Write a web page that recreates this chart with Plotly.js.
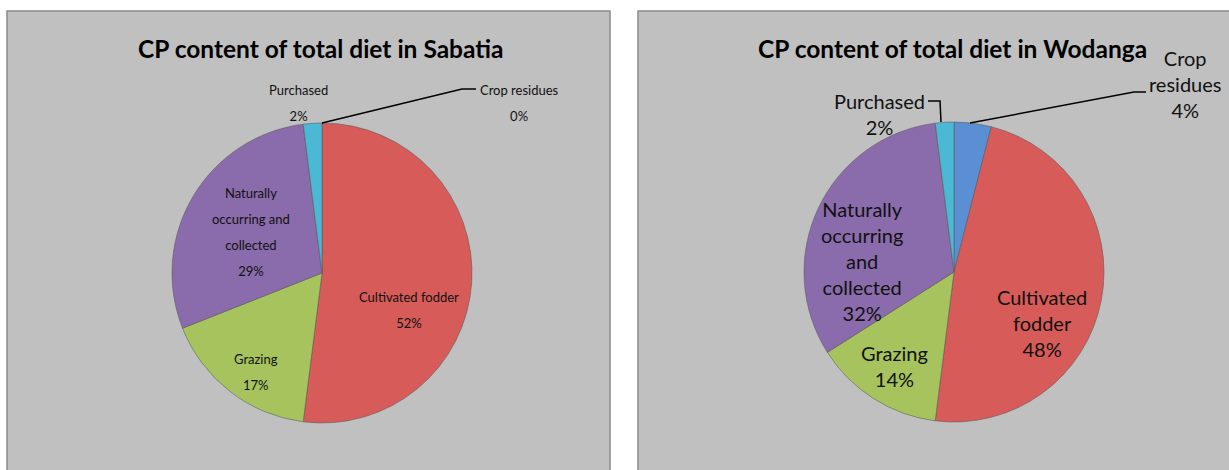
<!DOCTYPE html>
<html>
<head>
<meta charset="utf-8">
<script src="https://cdn.plot.ly/plotly-3.0.1.min.js"></script>
<style>html,body{margin:0;padding:0;background:#fff;}#chart{width:1229px;height:470px;}</style>
</head>
<body>
<div id="chart"></div>
<script>
// ---- data ----
const categories = ['Crop residues', 'Cultivated fodder', 'Grazing', 'Naturally occurring and collected', 'Purchased'];
const sabatiaValues = [0, 52, 17, 29, 2];
const wodangaValues = [4, 48, 14, 32, 2];
const sabatiaLabelLines = [['Crop residues'], ['Cultivated fodder'], ['Grazing'], ['Naturally', 'occurring and', 'collected'], ['Purchased']];
const wodangaLabelLines = [['Crop', 'residues'], ['Cultivated', 'fodder'], ['Grazing'], ['Naturally', 'occurring', 'and', 'collected'], ['Purchased']];
const titles = ['CP content of total diet in Sabatia', 'CP content of total diet in Wodanga'];
const sliceColors = ['#5a8fd4', '#d65b59', '#a6c35d', '#8a6bab', '#4bb8d4'];

// ---- helpers / layout settings ----
const W = 1229, H = 470;
const px = x => x / W;
const py = y => 1 - y / H;
const FONT = 'Lato, "Open Sans", sans-serif';

// label block centres (pixels) in the two panels
const sabatiaLabelPos = [[519, 103], [409, 310], [256, 372], [251, 232], [298, 103]];
const wodangaLabelPos = [[1185, 84], [1042, 323], [894, 366], [862, 261], [879, 114]];

function labelText(lines, value, size) {
  return lines.concat([value + '%']).map(s => '<span style="font-size:' + size + 'px">' + s + '</span>').join('<br>');
}

const pieCommon = {
  type: 'pie',
  labels: categories,
  sort: false,
  direction: 'clockwise',
  rotation: 0,
  marker: {colors: sliceColors, line: {color: 'rgba(90,90,90,0.55)', width: 1}},
  textinfo: 'none',
  showlegend: false,
  hoverinfo: 'label+percent'
};

const traces = [
  Object.assign({}, pieCommon, {
    values: sabatiaValues,
    domain: {x: [px(172), px(472)], y: [py(423), py(123)]}
  }),
  Object.assign({}, pieCommon, {
    values: wodangaValues,
    domain: {x: [px(804), px(1104)], y: [py(422), py(122)]}
  })
];

const annotations = [
  {text: '<b>' + titles[0] + '</b>', x: px(320), y: py(48), font: {family: FONT, size: 24.5, color: '#000'}},
  {text: '<b>' + titles[1] + '</b>', x: px(952), y: py(48), font: {family: FONT, size: 24.5, color: '#000'}}
];
categories.forEach((c, i) => {
  annotations.push({text: labelText(sabatiaLabelLines[i], sabatiaValues[i], 13),
    x: px(sabatiaLabelPos[i][0]), y: py(sabatiaLabelPos[i][1]), font: {family: FONT, size: 20, color: '#111'}});
  annotations.push({text: labelText(wodangaLabelLines[i], wodangaValues[i], 20),
    x: px(wodangaLabelPos[i][0]), y: py(wodangaLabelPos[i][1]), font: {family: FONT, size: 20, color: '#111'}});
});
annotations.forEach(a => Object.assign(a, {xref: 'paper', yref: 'paper', showarrow: false, xanchor: 'center', yanchor: 'middle'}));

const P = (x, y) => px(x) + ',' + py(y);
const shapes = [
  {type: 'rect', xref: 'paper', yref: 'paper', x0: px(7), x1: px(610), y0: -0.05, y1: py(11), fillcolor: '#c0c0c0', line: {color: '#8a8a8a', width: 1.5}, layer: 'below'},
  {type: 'rect', xref: 'paper', yref: 'paper', x0: px(638), x1: px(1240), y0: -0.05, y1: py(11), fillcolor: '#c0c0c0', line: {color: '#8a8a8a', width: 1.5}, layer: 'below'},
  // leader lines
  {type: 'path', xref: 'paper', yref: 'paper', path: 'M' + P(322, 123) + 'L' + P(462, 89) + 'L' + P(476, 89), line: {color: '#000', width: 1.5}},
  {type: 'path', xref: 'paper', yref: 'paper', path: 'M' + P(970, 123) + 'L' + P(1134, 92) + 'L' + P(1146, 92), line: {color: '#000', width: 1.5}},
  {type: 'path', xref: 'paper', yref: 'paper', path: 'M' + P(928, 101) + 'L' + P(940, 101) + 'L' + P(941, 122), line: {color: '#000', width: 1.5}}
];

const layout = {
  width: W, height: H,
  margin: {l: 0, r: 0, t: 0, b: 0},
  paper_bgcolor: '#ffffff',
  plot_bgcolor: '#ffffff',
  annotations: annotations,
  shapes: shapes
};

Plotly.newPlot('chart', traces, layout, {displayModeBar: false, staticPlot: true});
</script>
</body>
</html>
